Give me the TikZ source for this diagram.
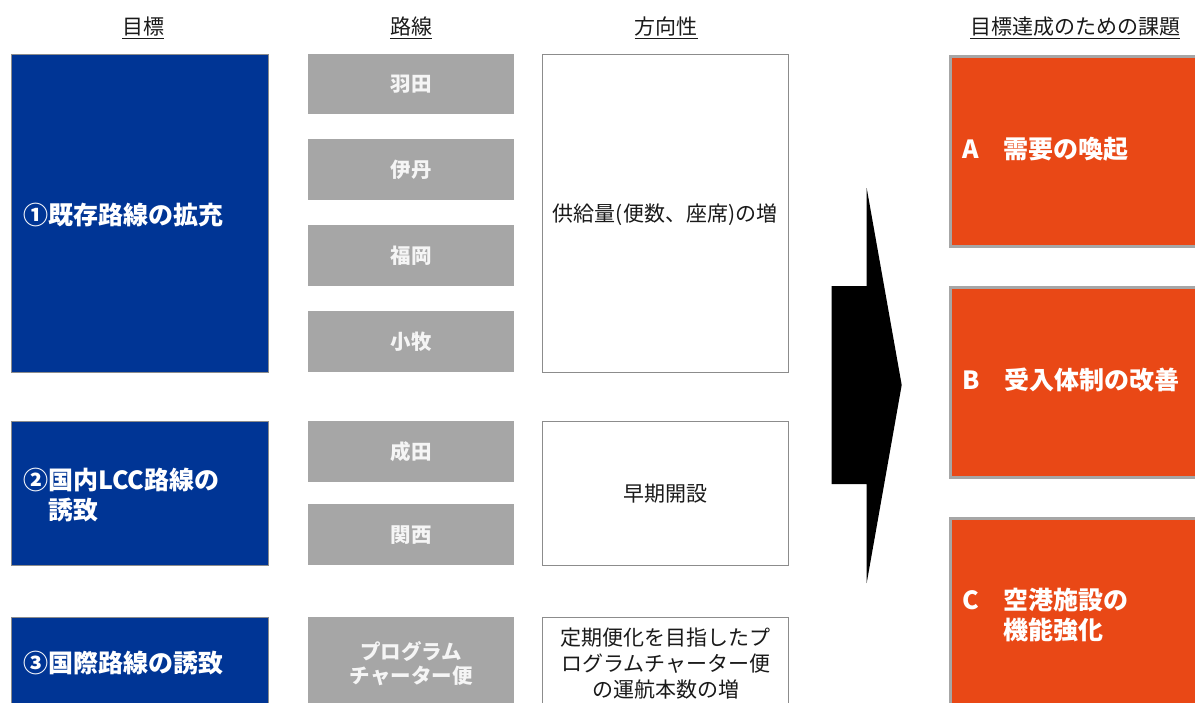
\documentclass[tikz,border=0pt]{standalone}
\usepackage{fontspec}
\setmainfont{Noto Sans CJK JP}
\definecolor{goalblue}{HTML}{003595}
\definecolor{routegray}{HTML}{A6A6A6}
\definecolor{issueorange}{HTML}{E94816}
\definecolor{edgegray}{HTML}{8C8C8C}
\definecolor{txt}{HTML}{1A1A1A}
\begin{document}
\begin{tikzpicture}[x=1pt,y=-1pt,
  hdr/.style={font=\fontsize{21}{24}\selectfont, text=txt, inner sep=0},
  goalbox/.style={draw=edgegray, line width=0.8pt, fill=goalblue, anchor=north west, inner sep=0, minimum width=257pt},
  goaltext/.style={anchor=west, inner sep=0, text=white, align=left, font=\fontsize{25}{30}\selectfont\bfseries},
  routebox/.style={fill=routegray, anchor=north west, inner sep=0, minimum width=206pt, text=white!96!black, align=center, font=\fontsize{20.5}{24}\selectfont\bfseries},
  dirbox/.style={draw=edgegray, line width=1.2pt, fill=white, anchor=north west, inner sep=0, minimum width=246pt, text=txt, align=center, font=\fontsize{21}{26}\selectfont},
  issuebox/.style={draw=routegray, line width=2.6pt, fill=issueorange, anchor=north west, inner sep=0, minimum width=270pt},
  issuetext/.style={anchor=west, inner sep=0, text=white, align=left, font=\fontsize{25}{30}\selectfont\bfseries}
]
\useasboundingbox (0,0) rectangle (1195,702);
\clip (0,0) rectangle (1195,702);

% headers
\node[hdr] (h1) at (143,28) {\underline{目標}};
\node[hdr] (h2) at (411,28) {\underline{路線}};
\node[hdr] (h3) at (666,28) {\underline{方向性}};
\node[hdr] (h4) at (1075,28) {\underline{目標達成のための課題}};

% goals
\node[goalbox, minimum height=318pt] (g1) at (11,54) {};
\node[goalbox, minimum height=144pt] (g2) at (11,421) {};
\node[goalbox, minimum height=92pt] (g3) at (11,617) {};
\node[goaltext] (g1t) at ([xshift=12pt,yshift=-2pt]g1.west) {①既存路線の拡充};
\node[goaltext] (g2t) at ([xshift=12pt,yshift=-2pt]g2.west) {②国内LCC路線の\\\phantom{②}誘致};
\node[goaltext] (g3t) at ([xshift=12pt]g3.west) {③国際路線の誘致};

% routes
\node[routebox, minimum height=60pt] (r1) at (308,54) {羽田};
\node[routebox, minimum height=61pt] (r2) at (308,139) {伊丹};
\node[routebox, minimum height=61pt] (r3) at (308,225) {福岡};
\node[routebox, minimum height=61pt] (r4) at (308,311) {小牧};
\node[routebox, minimum height=61pt] (r5) at (308,421) {成田};
\node[routebox, minimum height=61pt] (r6) at (308,504) {関西};
\node[routebox, minimum height=92pt] (r7) at (308,617) {プログラム\\チャーター便};

% directions
\node[dirbox, minimum height=318pt] (d1) at (542,54) {};
\node[text=txt, inner sep=0, font=\fontsize{21}{26}\selectfont] (d1t) at (665,215) {供給量(便数、座席)の増};
\node[dirbox, minimum height=144pt] (d2) at (542,421) {早期開設};
\node[dirbox, minimum height=92pt] (d3) at (542,617) {定期便化を目指したプ\\ログラムチャーター便\\の運航本数の増};

% big arrow
\fill[black] (831.7,286) -- (866.7,286) -- (866.7,188) -- (901.7,385) -- (866.7,583) -- (866.7,484) -- (831.7,484) -- cycle;

% issues
\node[issuebox, minimum height=190pt] (iA) at (949,55) {};
\node[issuebox, minimum height=190pt] (iB) at (949,286) {};
\node[issuebox, minimum height=194pt] (iC) at (949,517) {};
\node[issuetext] (iAt) at ([xshift=13pt,yshift=2pt]iA.west) {A　需要の喚起};
\node[issuetext] (iBt) at ([xshift=13pt,yshift=2pt]iB.west) {B　受入体制の改善};
\node[issuetext] (iCt) at ([xshift=13pt,yshift=0pt]iC.west) {C　空港施設の\\\phantom{C　}機能強化};
\end{tikzpicture}
\end{document}
